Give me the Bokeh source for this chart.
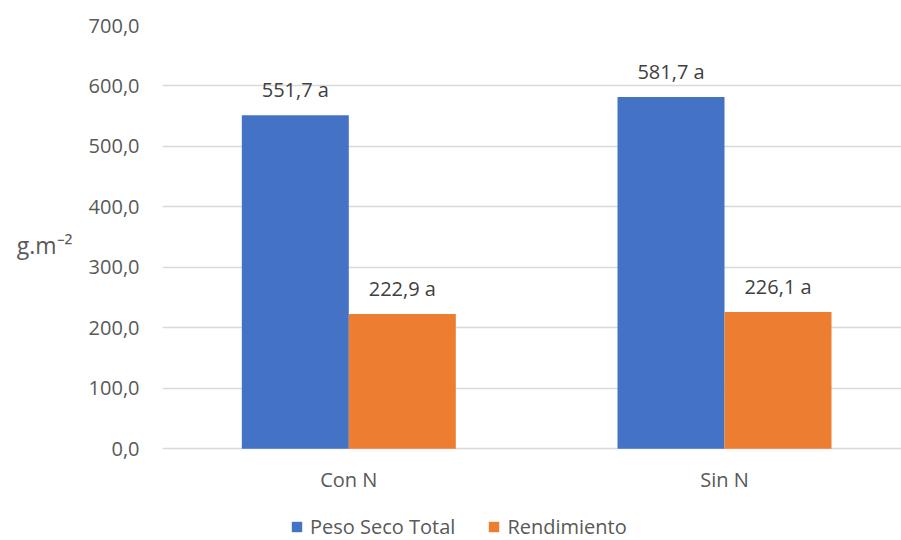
from bokeh.plotting import figure
from bokeh.models import Range1d, FixedTicker, Legend, LegendItem, ColumnDataSource
from bokeh.embed import file_html
from bokeh.resources import INLINE
from bokeh.core.properties import value

# ---- data ----
categories = ["Con N", "Sin N"]
peso_seco_total = [551.7, 581.7]
rendimiento = [222.9, 226.1]
letters_peso = ["a", "a"]
letters_rend = ["a", "a"]
series_names = ["Peso Seco Total", "Rendimiento"]
y_ticks = [0, 100, 200, 300, 400, 500, 600, 700]
y_title = "g.m\u207b\u00b2"

# ---- style ----
colors = ["#4472C4", "#ED7D31"]
FONT = "Open Sans"
TXT = "#595959"
LBL = "#404040"
GRID = "#D9D9D9"
BAR_W = 0.2848

def fmt(v):
    return f"{v:.1f}".replace(".", ",")

idx = list(range(len(categories)))
x_blue = [i - BAR_W / 2 for i in idx]
x_orange = [i + BAR_W / 2 for i in idx]

src_b = ColumnDataSource(dict(x=x_blue, top=peso_seco_total,
                              lab=[f"{fmt(v)} {l}" for v, l in zip(peso_seco_total, letters_peso)]))
src_o = ColumnDataSource(dict(x=x_orange, top=rendimiento,
                              lab=[f"{fmt(v)} {l}" for v, l in zip(rendimiento, letters_rend)]))

# frame extends to the bottom of the page so the category labels and legend live inside it
p = figure(width=901, height=540,
           x_range=Range1d(-0.4959, 1.4711), y_range=Range1d(-151.6, 700),
           output_backend="svg", toolbar_location=None,
           min_border_left=162, min_border_right=0,
           min_border_top=25, min_border_bottom=0)
p.outline_line_color = None
p.background_fill_color = "white"
p.border_fill_color = "white"

rb = p.vbar(x="x", top="top", width=BAR_W, bottom=0, source=src_b,
            fill_color=colors[0], line_color=None)
ro = p.vbar(x="x", top="top", width=BAR_W, bottom=0, source=src_o,
            fill_color=colors[1], line_color=None)

for s in (src_b, src_o):
    p.text(x="x", y="top", text="lab", source=s, text_align="center",
           text_baseline="alphabetic", y_offset=-26,
           text_font=value(FONT), text_font_size="20px", text_color=LBL)

# axes
p.xgrid.grid_line_color = None
p.ygrid.grid_line_color = GRID
p.ygrid.grid_line_width = 1.4

p.yaxis.ticker = FixedTicker(ticks=y_ticks)
p.yaxis.bounds = (y_ticks[0], y_ticks[-1])
p.yaxis.major_label_overrides = {t: fmt(t) for t in y_ticks}
p.yaxis.axis_line_color = None
p.yaxis.major_tick_line_color = None
p.yaxis.minor_tick_line_color = None
p.yaxis.major_tick_out = 0
p.yaxis.major_label_standoff = 23
p.yaxis.major_label_text_font = FONT
p.yaxis.major_label_text_font_size = "20px"
p.yaxis.major_label_text_color = TXT
# trailing blank lines lift the (frame-centred) title up towards the 0-700 span's middle
p.yaxis.axis_label = y_title + "\n \n "
p.yaxis.axis_label_orientation = "horizontal"
p.yaxis.axis_label_standoff = 13
p.yaxis.axis_label_text_font = FONT
p.yaxis.axis_label_text_font_size = "23px"
p.yaxis.axis_label_text_font_style = "normal"
p.yaxis.axis_label_text_color = TXT

p.xaxis.ticker = FixedTicker(ticks=idx)
p.xaxis.fixed_location = 0
p.xaxis.major_label_overrides = {i: c for i, c in zip(idx, categories)}
p.xaxis.axis_line_color = None
p.xaxis.major_tick_line_color = None
p.xaxis.minor_tick_line_color = None
p.xaxis.major_tick_out = 0
p.xaxis.major_label_standoff = 17
p.xaxis.major_label_text_font = FONT
p.xaxis.major_label_text_font_size = "20px"
p.xaxis.major_label_text_color = TXT

legend = Legend(items=[LegendItem(label=series_names[0], renderers=[rb]),
                       LegendItem(label=series_names[1], renderers=[ro])],
                orientation="horizontal", location=(128, 0),
                glyph_width=13, glyph_height=13, label_standoff=7, spacing=32,
                padding=0, margin=0, border_line_color=None, background_fill_alpha=0,
                label_text_font=FONT, label_text_font_size="20px", label_text_color=TXT)
p.add_layout(legend)

open("out.html", "w").write(file_html(p, INLINE))
